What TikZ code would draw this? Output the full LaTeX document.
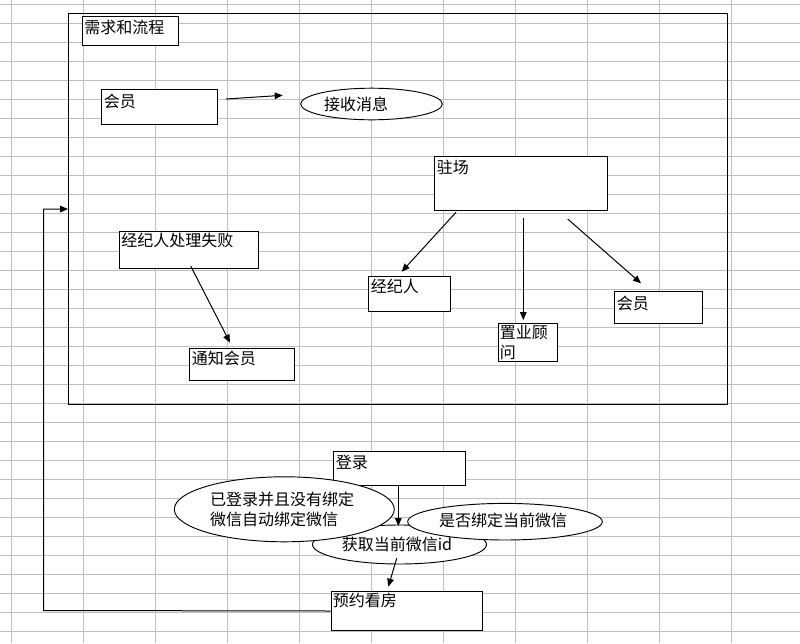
\documentclass[tikz,border=0pt]{standalone}
\usepackage{fontspec}
\setmainfont{Noto Sans CJK SC}
\usetikzlibrary{arrows.meta,shapes.geometric}
\tikzset{
  gridline/.style={draw=black!25,line width=0.75pt},
  boxnode/.style 2 args={draw=black,fill=white,line width=0.75pt,inner sep=0pt,anchor=north west,
    minimum width=#1*0.75pt,minimum height=#2*0.75pt},
  framenode/.style 2 args={draw=black,line width=0.8pt,inner sep=0pt,anchor=north west,
    minimum width=#1*0.75pt,minimum height=#2*0.75pt},
  ellnode/.style 2 args={ellipse,draw=black,fill=white,line width=0.7pt,inner sep=0pt,
    minimum width=#1*1.5pt,minimum height=#2*1.5pt},
  txt/.style={anchor=base west,inner sep=0pt,font=\fontsize{12pt}{15pt}\selectfont},
  ctxt/.style={inner sep=0pt,font=\fontsize{12pt}{15pt}\selectfont,align=left},
  arr/.style={draw=black,line width=0.75pt,-{Triangle[length=6pt,width=5pt]}}
}
\begin{document}
\begin{tikzpicture}[x=0.75pt,y=-0.75pt]
\useasboundingbox (0,0) rectangle (800,643);
\fill[white] (0,0) rectangle (800,643);
% spreadsheet grid
\foreach \i in {0,...,11} \draw[gridline] (11+72*\i,0) -- (11+72*\i,643);
\foreach \j in {0,...,33} \draw[gridline] (0,4.5+19*\j) -- (800,4.5+19*\j);

% outer frame
\node[framenode={659.3}{391}] (frame) at (68,13) {};

% top area boxes
\node[boxnode={95.4}{29.3}] (title) at (82.3,16) {};
\node[txt] (titlet) at (84,33) {需求和流程};
\node[boxnode={116}{34.7}] (mem1) at (101,89.3) {};
\node[txt] (mem1t) at (103.5,107) {会员};
\node[ellnode={70.8}{15.8}] (recv) at (371.5,104) {};
\node[ctxt] (recvt) at (356,104) {接收消息};

\node[boxnode={172.4}{54.3}] (zc) at (434.3,156) {};
\node[txt] (zct) at (436.5,173.5) {驻场};
\node[boxnode={82}{35}] (jjr) at (368.3,276.3) {};
\node[txt] (jjrt) at (370.5,292) {经纪人};
\node[boxnode={59}{38}] (zygw) at (497.7,323.3) {};
\node[anchor=north west,inner sep=0pt,font=\fontsize{12pt}{15pt}\selectfont,align=left] (zygwt) at (499.5,324.5) {置业顾\\问};
\node[boxnode={88}{32}] (mem2) at (614.3,291.3) {};
\node[txt] (mem2t) at (616.5,309) {会员};

\node[boxnode={139.3}{37.6}] (fail) at (119,230.7) {};
\node[txt] (failt) at (121,246.5) {经纪人处理失败};
\node[boxnode={105}{31.7}] (notify) at (189.3,348.3) {};
\node[txt] (notifyt) at (191.5,364.5) {通知会员};

% bottom area
\node[boxnode={132}{33.7}] (login) at (333.3,451.3) {};
\node[txt] (logint) at (335.5,468) {登录};
\node[ellnode={87}{19.5}] (get) at (399.5,544.5) {};
\node[ctxt] (gett) at (397,544) {获取当前微信id};
\node[ellnode={110}{32.5}] (auto) at (284.3,509.3) {};
\node[ctxt] (autot) at (282,509) {已登录并且没有绑定\\微信自动绑定微信};
\node[ellnode={97.3}{18.3}] (isb) at (505,521.7) {};
\node[ctxt] (isbt) at (503,520.5) {是否绑定当前微信};
\node[boxnode={151.6}{39}] (book) at (330.7,591) {};
\node[txt] (bookt) at (332.5,606.5) {预约看房};

% connector end points
\coordinate (a1s) at (226,99);     \coordinate (a1e) at (282.7,95.3);
\coordinate (a2s) at (456,212.3);  \coordinate (a2e) at (401.7,271.7);
\coordinate (a3s) at (523.3,218.3);\coordinate (a3e) at (523.3,320);
\coordinate (a4s) at (567.7,219);  \coordinate (a4e) at (641,283.3);
\coordinate (a5s) at (190.7,266);  \coordinate (a5e) at (230,342.7);
\coordinate (a6s) at (398.3,485);  \coordinate (a6e) at (398.3,526);
\coordinate (a7s) at (396.7,558.3);\coordinate (a7e) at (388.3,586.7);
\coordinate (bend) at (43.5,610.5);

\draw[arr] (a1s) -- (a1e);
\draw[arr] (a2s) -- (a2e);
\draw[arr] (a3s) -- (a3e);
\draw[arr] (a4s) -- (a4e);
\draw[arr] (a5s) -- (a5e);
\draw[arr] (a6s) -- (a6e);
\draw[arr] (a7s) -- (a7e);
\draw[arr] (book.west) -- (bend) |- (frame.west);
\end{tikzpicture}
\end{document}
